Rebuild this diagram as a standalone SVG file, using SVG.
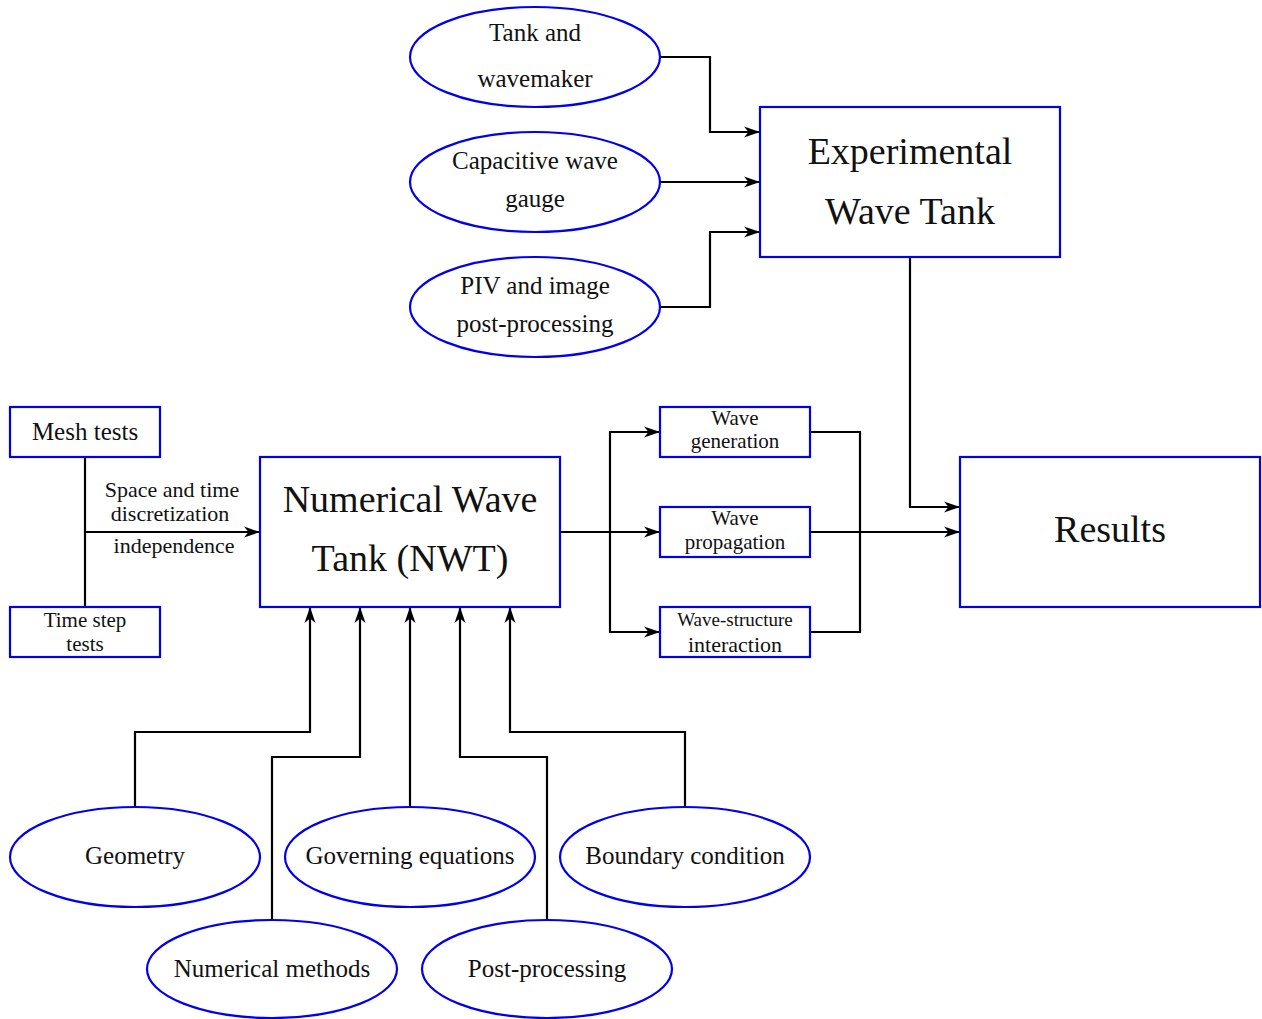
<svg xmlns="http://www.w3.org/2000/svg" width="1262" height="1019" viewBox="0 0 1262 1019">
<defs>
<marker id="ah" markerWidth="18" markerHeight="14" refX="16" refY="7" orient="auto" markerUnits="userSpaceOnUse">
<path d="M0,1.5 L16,7 L0,12.5 L4.5,7 Z" fill="#000"/>
</marker>
<style>
.n{fill:#fff;stroke:#0000ee;stroke-width:2.2}
.c{fill:none;stroke:#000;stroke-width:2.2}
.a{marker-end:url(#ah)}
text{font-family:"Liberation Serif","DejaVu Serif",serif;fill:#111;text-anchor:middle}
.L{font-size:38px}
.M{font-size:25px}
.B{font-size:22px}
.T{font-size:21px}
.S{font-size:19px}
</style>
</defs>
<g id="connectors">
<path class="c a" d="M660,57 H710 V132 H760"/>
<path class="c a" d="M660,182 H760"/>
<path class="c a" d="M660,307 H710 V232 H760"/>
<path class="c a" d="M910,257 V507 H960"/>
<path class="c a" d="M560,532 H660"/>
<path class="c a" d="M610,532 V432 H660"/>
<path class="c a" d="M610,532 V632 H660"/>
<path class="c" d="M810,432 H860 V632 H810"/>
<path class="c a" d="M810,532 H960"/>
<path class="c" d="M85,457 V607"/>
<path class="c a" d="M85,532 H260"/>
<path class="c a" d="M135,807 V732 H310 V607"/>
<path class="c a" d="M272,920 V757 H360 V607"/>
<path class="c a" d="M410,807 V607"/>
<path class="c a" d="M547,920 V757 H460 V607"/>
<path class="c a" d="M685,807 V732 H510 V607"/>
<text class="B" x="172" y="497">Space and time</text>
<text class="B" x="170" y="521">discretization</text>
<text class="B" x="174" y="553">independence</text>
</g>
<g id="tank-wavemaker"><ellipse class="n" cx="535" cy="57" rx="125" ry="50"/><text class="M" x="535" y="41">Tank and</text><text class="M" x="535" y="87">wavemaker</text></g>
<g id="capacitive"><ellipse class="n" cx="535" cy="182" rx="125" ry="50"/><text class="M" x="535" y="169">Capacitive wave</text><text class="M" x="535" y="207">gauge</text></g>
<g id="piv"><ellipse class="n" cx="535" cy="307" rx="125" ry="50"/><text class="M" x="535" y="294">PIV and image</text><text class="M" x="535" y="332">post-processing</text></g>
<g id="experimental"><rect class="n" x="760" y="107" width="300" height="150"/><text class="L" x="910" y="164">Experimental</text><text class="L" x="910" y="224">Wave Tank</text></g>
<g id="results"><rect class="n" x="960" y="457" width="300" height="150"/><text class="L" x="1110" y="542">Results</text></g>
<g id="nwt"><rect class="n" x="260" y="457" width="300" height="150"/><text class="L" x="410" y="512">Numerical Wave</text><text class="L" x="410" y="571">Tank (NWT)</text></g>
<g id="mesh"><rect class="n" x="10" y="407" width="150" height="50"/><text class="M" x="85" y="440">Mesh tests</text></g>
<g id="timestep"><rect class="n" x="10" y="607" width="150" height="50"/><text class="T" x="85" y="627">Time step</text><text class="T" x="85" y="651">tests</text></g>
<g id="wave-gen"><rect class="n" x="660" y="407" width="150" height="50"/><text class="T" x="735" y="425">Wave</text><text class="T" x="735" y="448">generation</text></g>
<g id="wave-prop"><rect class="n" x="660" y="507" width="150" height="50"/><text class="T" x="735" y="525">Wave</text><text class="T" x="735" y="549">propagation</text></g>
<g id="wave-struct"><rect class="n" x="660" y="607" width="150" height="50"/><text class="S" x="735" y="626">Wave-structure</text><text class="B" x="735" y="652">interaction</text></g>
<g id="geometry"><ellipse class="n" cx="135" cy="857" rx="125" ry="50"/><text class="M" x="135" y="864">Geometry</text></g>
<g id="governing"><ellipse class="n" cx="410" cy="857" rx="125" ry="50"/><text class="M" x="410" y="864">Governing equations</text></g>
<g id="boundary"><ellipse class="n" cx="685" cy="857" rx="125" ry="50"/><text class="M" x="685" y="864">Boundary condition</text></g>
<g id="numerical-methods"><ellipse class="n" cx="272" cy="969" rx="125" ry="49"/><text class="M" x="272" y="977">Numerical methods</text></g>
<g id="post-processing"><ellipse class="n" cx="547" cy="969" rx="125" ry="49"/><text class="M" x="547" y="977">Post-processing</text></g>
</svg>
